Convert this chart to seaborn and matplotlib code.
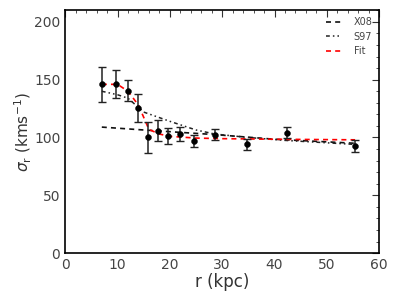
import matplotlib
matplotlib.use("Agg")
import matplotlib.pyplot as plt
import seaborn as sns
import pandas as pd
import numpy as np
from matplotlib.ticker import MultipleLocator

# observed data
r_obs = [7.0, 9.7, 12.0, 13.9, 15.8, 17.7, 19.6, 22.0, 24.6, 28.6, 34.7, 42.4, 55.4]
sig_obs = [146, 146, 140.5, 125.5, 100, 106, 101.5, 103, 97, 102.5, 94, 104.3, 92.8]
err_obs = [15, 12, 9, 12, 13, 9, 7, 6, 5.5, 5, 5, 4.5, 5]

# model curves
r_x08 = [7, 15, 28.6, 40, 55.4]
sig_x08 = [109, 106.5, 102.5, 98.5, 95]

r_s97 = [7, 10, 12, 15, 20, 25, 28.6, 35, 42, 55.4]
sig_s97 = [140, 137, 134, 122, 114, 106.5, 103, 100, 97.5, 94]

r_fit = [7, 10, 12, 14, 16, 18, 20, 25, 30, 40, 55.4]
sig_fit = [146, 146, 140, 128, 107, 103, 101, 99.5, 99, 98.5, 98]

sns.set_theme(style="white")
plt.rcParams['font.family'] = ['DejaVu Sans']

fig, ax = plt.subplots(figsize=(3.95, 2.96), dpi=100)

sns.lineplot(x=r_x08, y=sig_x08, ax=ax, color="#111111", linestyle=(0, (3, 2.5)), lw=1.2, label="X08")
sns.lineplot(x=r_s97, y=sig_s97, ax=ax, color="#222222", linestyle=(0, (2.5, 2, 1, 2, 1, 2)), lw=1.1, label="S97")
sns.lineplot(x=r_fit, y=sig_fit, ax=ax, color="red", linestyle=(0, (3, 2.5)), lw=1.2, label="Fit")

ax.errorbar(r_obs, sig_obs, yerr=err_obs, fmt="none", ecolor="#222222", elinewidth=1.1, capsize=3, capthick=1.0, zorder=3)
sns.scatterplot(x=r_obs, y=sig_obs, ax=ax, color="black", s=18, edgecolor="black", zorder=4)

ax.set_xlim(0, 60)
ax.set_ylim(0, 210)
ax.xaxis.set_major_locator(MultipleLocator(10))
ax.xaxis.set_minor_locator(MultipleLocator(2))
ax.yaxis.set_major_locator(MultipleLocator(50))
ax.yaxis.set_minor_locator(MultipleLocator(10))
ax.tick_params(which="both", direction="in", top=True, right=True, colors="#333333", labelcolor="#444444")
ax.tick_params(which="major", length=5, width=0.8, labelsize=10)
ax.tick_params(which="minor", length=2.5, width=0.6)
for s in ax.spines.values():
    s.set_color("black")
    s.set_linewidth(1.2)

ax.set_xlabel("r (kpc)", fontsize=12, color="#333333", labelpad=1)
ax.set_ylabel(r"$\sigma_{\rm r}$ (kms$^{-1}$)", fontsize=11, color="#333333", labelpad=0)

leg = ax.legend(loc="upper right", frameon=False, fontsize=7, handlelength=1.6,
                labelspacing=0.45, handletextpad=1.2, borderaxespad=0.3)
for t in leg.get_texts():
    t.set_color("#444444")

fig.subplots_adjust(left=0.165, right=0.96, top=0.965, bottom=0.145)
fig.savefig("out.png", dpi=100)
